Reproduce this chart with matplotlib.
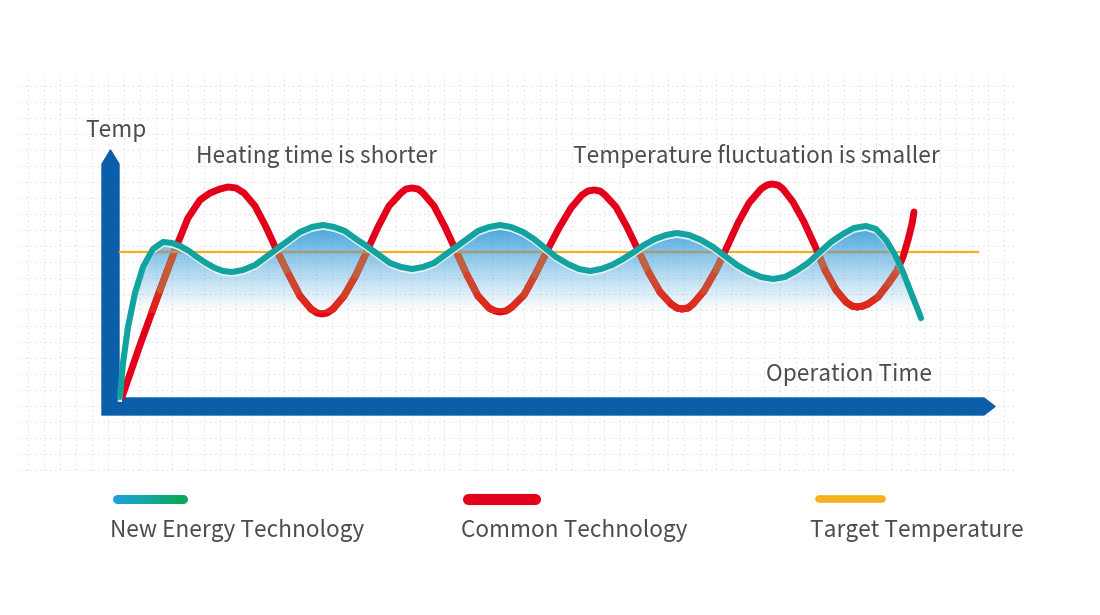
import numpy as np
import matplotlib.pyplot as plt
from matplotlib.collections import LineCollection
from matplotlib.colors import LinearSegmentedColormap, Normalize
from matplotlib.patches import Polygon
from matplotlib.path import Path
import matplotlib.transforms as mtransforms

plt.rcParams['font.family'] = ['Noto Sans CJK SC', 'DejaVu Sans']

# values (time / temperature in arbitrary units)
common_time = [2, 20, 40, 55, 68, 80, 90, 100, 108, 116,
               124, 135, 146, 157, 169, 180, 191, 197, 202, 207,
               213, 224, 236, 247, 258, 269, 281, 286, 292, 298,
               303, 314, 325, 336, 347, 358, 369, 375, 380, 386,
               392, 404, 415, 427, 439, 451, 462, 468, 474, 480,
               485, 496, 507, 518, 529, 540, 551, 557, 562, 568,
               573, 584, 596, 607, 618, 629, 641, 647, 652, 658,
               663, 673, 684, 695, 705, 716, 726, 732, 737, 743,
               748, 758, 768, 777, 783, 788, 792, 794]
common_temp = [0, 52, 107, 147, 179, 197, 204, 208, 210, 209,
               204, 191, 170, 146, 122, 101, 88, 84, 83, 84,
               88, 101, 122, 146, 170, 191, 204, 208, 209, 208,
               204, 191, 170, 146, 122, 101, 89, 86, 85, 86,
               90, 102, 122, 146, 169, 189, 202, 206, 207, 206,
               202, 190, 170, 147, 124, 105, 93, 89, 88, 89,
               93, 106, 127, 150, 174, 194, 208, 212, 213, 212,
               208, 195, 175, 151, 127, 107, 95, 91, 90, 91,
               93, 100, 113, 126, 140, 157, 173, 185]

new_time = [0, 3, 8, 15, 23, 33, 43,
            52, 60, 69, 77, 86, 95, 103, 112,
            123, 135, 146, 158, 169, 180, 192, 203,
            214, 225, 236, 248, 259, 270, 281, 292,
            303, 314, 325, 336, 347, 358, 369, 380,
            391, 403, 414, 425, 436, 448, 459, 470,
            481, 492, 503, 514, 524, 535, 546, 557,
            569, 581, 593, 605, 617, 629, 641, 653,
            665, 676, 688, 700, 711, 723, 734, 746,
            756, 766, 775, 783, 790, 796, 801]
new_temp = [0, 34, 70, 104, 130, 148, 155,
            154, 151, 146, 140, 134, 129, 126, 125,
            127, 132, 140, 149, 157, 165, 170, 172,
            170, 166, 158, 150, 142, 134, 130, 128,
            130, 134, 142, 150, 158, 166, 170, 172,
            170, 165, 158, 149, 140, 133, 128, 126,
            128, 132, 138, 145, 152, 158, 162, 164,
            162, 157, 150, 141, 132, 125, 120, 118,
            120, 126, 134, 145, 155, 163, 169, 171,
            168, 157, 142, 125, 107, 92, 79]

target_temp = 145
target_span = [0, 858]

annotations = ['Heating time is shorter', 'Temperature fluctuation is smaller']
legend_labels = ['New Energy Technology', 'Common Technology', 'Target Temperature']

RED = '#e3001b'
TEAL = '#12a3a0'
ORANGE = '#f6ae1b'
BLUE = '#0b5ea8'
TXT = '#4d4d4d'
FS = 16.3

fig = plt.figure(figsize=(11, 6.15), dpi=100)
ax = fig.add_axes([0, 0, 1, 1])
ax.axis('off')

# faint background grid
ax.vlines(np.arange(-92, 900, 16), -73, 322, color='#e4e4e4', lw=0.7,
          linestyles=(0, (2, 3)), zorder=0)
ax.hlines(np.arange(-73, 322, 16), -100, 895, color='#e6e6e6', lw=0.7,
          linestyles=(0, (2, 3)), zorder=0)

# axes arrows (L shape)
axis_shape = Polygon([(-18, -18), (-18, 233), (-9.5, 247), (-1, 233), (-1, -1),
                      (864, -1), (875, -9.5), (864, -18)],
                     closed=True, facecolor=BLUE, edgecolor=BLUE, lw=1,
                     joinstyle='round', zorder=2)
ax.add_patch(axis_shape)

ct = np.array(common_time)
cT = np.array(common_temp)
nt = np.array(new_time)
nT = np.array(new_temp)

ax.plot(target_span, [target_temp, target_temp], color=ORANGE, lw=1.6, zorder=3)
ax.plot(ct, cT, color=RED, lw=5, solid_capstyle='round', solid_joinstyle='round', zorder=4)

# gradient fill under the new energy curve
base = 84
fill = ax.fill_between(nt, nT, base, where=nT >= base, interpolate=True,
                       facecolor='none', edgecolor='none')
clip = Path.make_compound_path(*fill.get_paths())

n = 200
fade = np.linspace(1, 0, n)[:, None]
grad = np.zeros((n, 2, 4))
grad[..., 0] = 38 / 255
grad[..., 1] = 148 / 255
grad[..., 2] = 214 / 255
grad[..., 3] = 0.9 * fade ** 1.1
im = ax.imshow(grad, extent=[0, 810, base, 176], origin='upper', aspect='auto',
               interpolation='bilinear', zorder=5)
im.set_clip_path(clip, transform=ax.transData)

# red and orange seen through the fill
pts = np.column_stack([ct, cT])
segs = np.stack([pts[:-1], pts[1:]], axis=1)
under_cmap = LinearSegmentedColormap.from_list('under', ['#e0241a', '#c65a38', '#a97d6a'])
lc = LineCollection(segs, cmap=under_cmap, norm=Normalize(90, 165),
                    linewidths=5, capstyle='round', joinstyle='round', zorder=6)
lc.set_array((pts[:-1, 1] + pts[1:, 1]) / 2)
lc.set_clip_path(clip, transform=ax.transData)
ax.add_collection(lc)

under_target, = ax.plot(target_span, [target_temp, target_temp], color='#a89c74',
                        lw=1.6, zorder=6)
under_target.set_clip_path(clip, transform=ax.transData)

# new energy curve with a light edge below
shift = mtransforms.offset_copy(ax.transData, fig=fig, x=0, y=-2.8, units='dots')
ax.plot(nt, nT, color='#e2f2f4', lw=3, transform=shift, zorder=7)
ax.plot(nt, nT, color=TEAL, lw=4.4, solid_capstyle='round', solid_joinstyle='round', zorder=8)

# texts
ax.text(-35, 267, 'Temp', fontsize=FS, color=TXT, va='center', ha='left')
ax.text(76, 241, annotations[0], fontsize=FS, color=TXT, va='center', ha='left')
ax.text(453, 241, annotations[1], fontsize=FS, color=TXT, va='center', ha='left')
ax.text(646, 22, 'Operation Time', fontsize=FS, color=TXT, va='center', ha='left')

# legend
sw = np.linspace(-3, 63, 40)
sw_segs = np.stack([np.column_stack([sw[:-1], np.full(39, -102)]),
                    np.column_stack([sw[1:], np.full(39, -102)])], axis=1)
sw_cmap = LinearSegmentedColormap.from_list('sw', ['#1fa0dc', '#11a7a0', '#0aa85c'])
sw_lc = LineCollection(sw_segs, cmap=sw_cmap, linewidths=6.5, capstyle='round', zorder=3)
sw_lc.set_array(sw[:-1])
ax.add_collection(sw_lc)
ax.plot([348, 415], [-102, -102], color=RED, lw=8, solid_capstyle='round')
ax.plot([699, 762], [-102, -102], color='#f6b21e', lw=5.5, solid_capstyle='round')

ax.text(-10, -133, legend_labels[0], fontsize=FS, color=TXT, va='center', ha='left')
ax.text(341, -133, legend_labels[1], fontsize=FS, color=TXT, va='center', ha='left')
ax.text(690, -133, legend_labels[2], fontsize=FS, color=TXT, va='center', ha='left')

ax.set_xlim(-120, 980)
ax.set_ylim(-218, 397)

fig.savefig('out.png', dpi=100)
